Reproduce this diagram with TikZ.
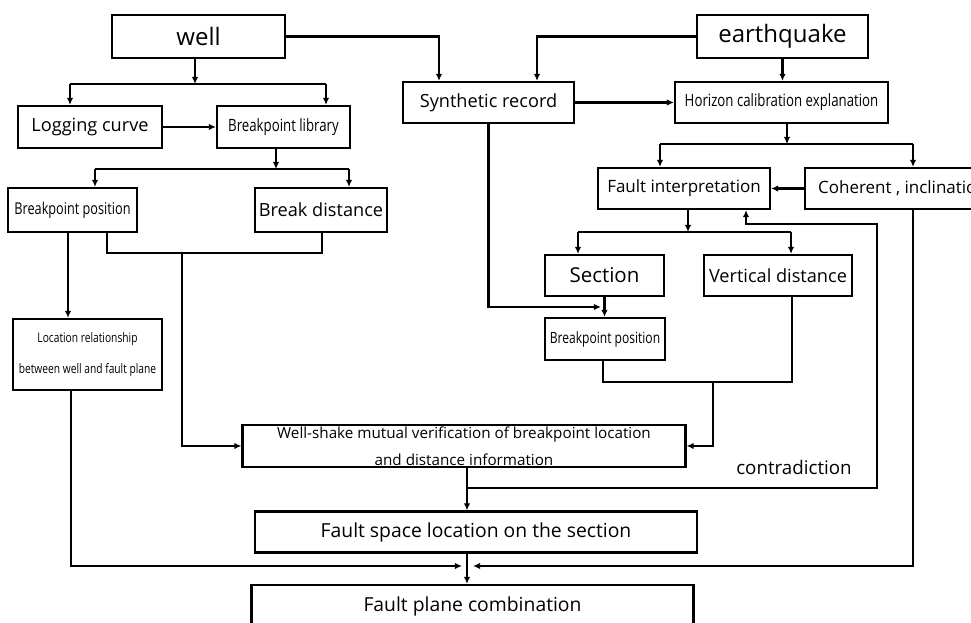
\documentclass[tikz,border=0pt]{standalone}
\usepackage{fontspec}
\setmainfont{Open Sans}
\newfontfamily\narrowfont[FakeStretch=0.78]{Open Sans}
\usetikzlibrary{arrows.meta,positioning,calc}
\newlength\pxu
\setlength\pxu{0.3mm}

\begin{document}
\begin{tikzpicture}[
  x=0.3mm,y=-0.3mm,>={Latex[length=6pt,width=5.5pt]},
  box/.style={draw, line width=1.9pt, inner sep=0pt, align=center},
  big/.style={font=\fontsize{20.5}{24}\selectfont},
  mid/.style={font=\fontsize{15.5}{18}\selectfont},
  sml/.style={font=\fontsize{14.5}{17}\selectfont},
  nar/.style={font=\narrowfont\fontsize{14.5}{17}\selectfont},
  link/.style={line width=1.8pt},
  flowarr/.style={->, line width=1.8pt},
]
\useasboundingbox (0,0) rectangle (971,623);
\clip (0,0) rectangle (971,623);

% sources
\node[box,big,minimum width=173\pxu,minimum height=43\pxu] (well) at (198.5,36.5) {well};
\node[box,big,minimum width=171\pxu,minimum height=43\pxu] (quake) at (782.5,36.5) {earthquake};
% well side
\node[box,mid,minimum width=144\pxu,minimum height=42\pxu] (log) at (90,127) {Logging curve};
\node[box,nar,minimum width=133\pxu,minimum height=42\pxu] (lib) at (283.5,127) {Breakpoint library};
\node[box,nar,font=\narrowfont\fontsize{13.9}{16}\selectfont,minimum width=129\pxu,minimum height=44\pxu] (wpos) at (72.5,210) {Breakpoint position};
\node[box,mid,minimum width=132\pxu,minimum height=44\pxu] (wdis) at (321,210) {Break distance};
\node[box,font=\narrowfont\fontsize{11.2}{27}\selectfont,minimum width=149\pxu,minimum height=71\pxu] (rel) at (87.5,354.5) {Location relationship\\between well and fault plane};
% seismic side
\node[box,mid,minimum width=171\pxu,minimum height=41\pxu] (syn) at (488.5,102.5) {Synthetic record};
\node[box,nar,minimum width=213\pxu,minimum height=41\pxu] (hor) at (781.5,102.5) {Horizon calibration explanation};
\node[box,sml,minimum width=172\pxu,minimum height=41\pxu] (fint) at (684,188.5) {Fault interpretation};
\node[box,sml,minimum width=195\pxu,minimum height=41\pxu] (coh) at (902.5,188.5) {Coherent , inclination};
\node[box,font=\fontsize{17.5}{20}\selectfont,minimum width=119\pxu,minimum height=41\pxu] (sec) at (604.5,275.5) {Section};
\node[box,mid,minimum width=148\pxu,minimum height=41\pxu] (vdis) at (778,275.5) {Vertical distance};
\node[box,font=\narrowfont\fontsize{13.2}{16}\selectfont,minimum width=120\pxu,minimum height=42\pxu] (spos) at (605,339) {Breakpoint position};
% joint result
\node[box,font=\fontsize{13}{23}\selectfont,minimum width=443\pxu,minimum height=42\pxu] (ver) at (464,446) {Well-shake mutual verification of breakpoint location\\and distance information};
\node[box,font=\fontsize{16.5}{19}\selectfont,minimum width=442\pxu,minimum height=41\pxu] (fsp) at (476,532) {Fault space location on the section};
\node[box,font=\fontsize{16.5}{19}\selectfont,minimum width=442\pxu,minimum height=42\pxu] (fpl) at (472.5,606) {Fault plane combination};
\node[font=\fontsize{16}{19}\selectfont] (con) at (794,467) {contradiction};

% junction points
\coordinate (wj) at (195,84);  \coordinate (wl) at (70,84);   \coordinate (wr) at (326,84);
\coordinate (ws) at (439,0);   \coordinate (qs) at (537,0);
\coordinate (lj) at (276,169); \coordinate (ll) at (95,169);  \coordinate (lr) at (349,169);
\coordinate (hj) at (787,144); \coordinate (hl) at (660,144); \coordinate (hr) at (913,144);
\coordinate (fj) at (688,232); \coordinate (fl) at (578,232); \coordinate (fr) at (791,232);
\coordinate (sx) at (601,307);
\coordinate (pd) at (68,0);
\coordinate (pa) at (107,253); \coordinate (pb) at (322,253); \coordinate (bj) at (182,253);
\coordinate (qa) at (603,382); \coordinate (qb) at (792,382); \coordinate (qj) at (713,382);
\coordinate (vx) at (467,0);
\coordinate (cj) at (467,488); \coordinate (cr) at (877,224); \coordinate (cu) at (746,0);
\coordinate (rx) at (71,0);
\coordinate (ml) at (462,566); \coordinate (mr) at (473,566);

% well branch
\draw[flowarr] (wj |- well.south) -- (wj);
\draw[link] (wl) -- (wr);
\draw[flowarr] (wl) -- (wl |- log.north);
\draw[flowarr] (wr) -- (wr |- lib.north);
\draw[flowarr] (well.east) -| (ws |- syn.north);
\draw[flowarr] (quake.west) -| (qs |- syn.north);
\draw[flowarr] (quake.south) -- (quake.south |- hor.north);
\draw[flowarr] (log) -- (lib);
\draw[flowarr] (syn) -- (hor);
% library branch
\draw[flowarr] (lj |- lib.south) -- (lj);
\draw[link] (ll) -- (lr);
\draw[flowarr] (ll) -- (ll |- wpos.north);
\draw[flowarr] (lr) -- (lr |- wdis.north);
% horizon branch
\draw[flowarr] (hj |- hor.south) -- (hj);
\draw[link] (hl) -- (hr);
\draw[flowarr] (hl) -- (hl |- fint.north);
\draw[flowarr] (hr) -- (hr |- coh.north);
\draw[flowarr] (coh) -- (fint);
% interpretation branch
\draw[flowarr] (fj |- fint.south) -- (fj);
\draw[link] (fl) -- (fr);
\draw[flowarr] (fl) -- (fl |- sec.north);
\draw[flowarr] (fr) -- (fr |- vdis.north);
\draw[flowarr] (syn.south) |- (sx);
\draw[flowarr] (sec.south) -- (sec.south |- spos.north);
% well results to check
\draw[flowarr] (pd |- wpos.south) -- (pd |- rel.north);
\draw[link] (pa |- wpos.south) -- (pa) -- (pb) -- (pb |- wdis.south);
\draw[flowarr] (bj) |- (ver.west);
\draw[link] (qa |- spos.south) -- (qa) -- (qb) -- (qb |- vdis.south);
\draw[flowarr] (qj) |- (ver.east);
% check and feedback
\draw[flowarr] (vx |- ver.south) -- (vx |- fsp.north);
\draw[flowarr] (cj) -| (cr) -| (cu |- fint.south);
% combination
\draw[flowarr] (vx |- fsp.south) -- (vx |- fpl.north);
\draw[flowarr] (rx |- rel.south) |- (ml);
\draw[flowarr] (hr |- coh.south) |- (mr);

\end{tikzpicture}
\end{document}
